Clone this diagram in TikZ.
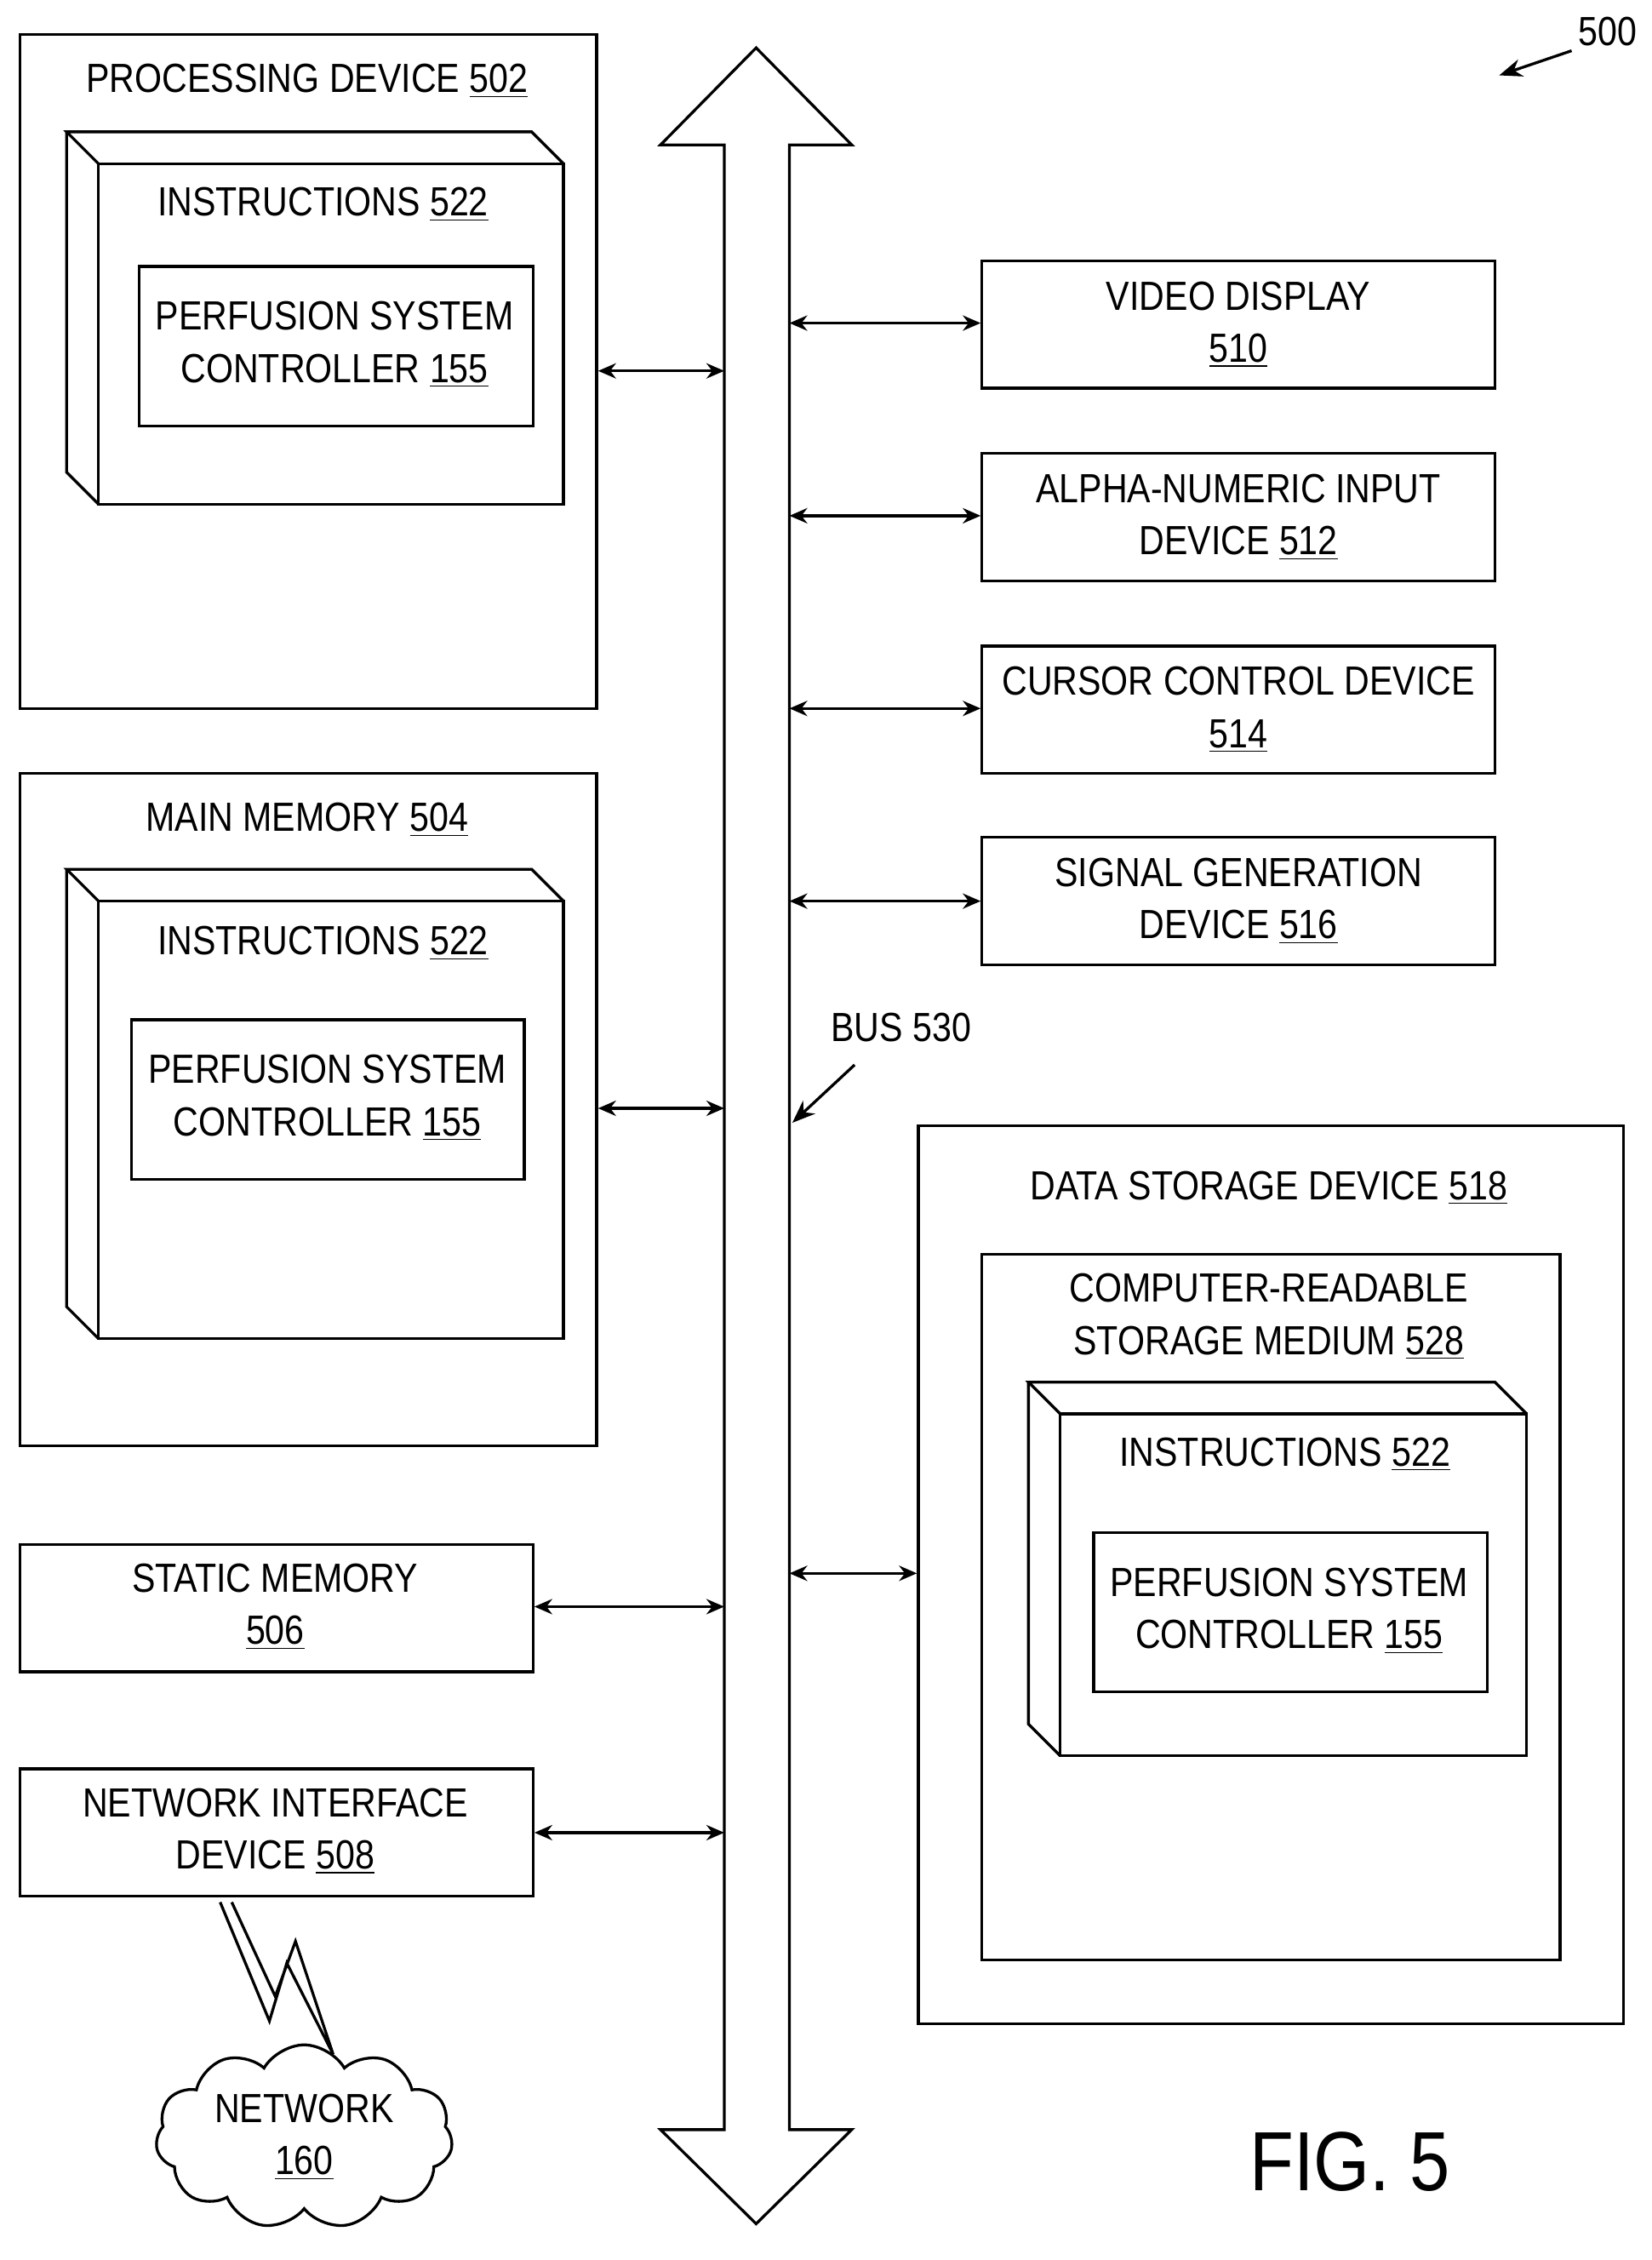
\documentclass[tikz,border=0pt]{standalone}
\usepackage{fontspec}
\setmainfont{Liberation Sans}[FakeStretch=0.86]
\usetikzlibrary{arrows.meta,shapes.symbols}
\begin{document}
\begin{tikzpicture}[x=0.02cm,y=-0.02cm,line width=1.1pt,
  box/.style={draw},
  lbl/.style={font=\fontsize{16}{20.5}\selectfont,align=center,inner sep=0},
  conn/.style={{Stealth[length=7pt,width=6pt]}-{Stealth[length=7pt,width=6pt]}},
  lead/.style={-{Stealth[length=9pt,width=7pt]}}]
\useasboundingbox (0,0) rectangle (1140,1560);
% bus
\draw (500,100) -- (456,100) -- (522,33) -- (588,100) -- (545,100) -- (545,1470) -- (588,1470) -- (522,1535) -- (456,1470) -- (500,1470) -- cycle;
\coordinate (busL) at (500,0); \coordinate (busR) at (545,0);
% processing device
\node[box,minimum width=398*0.02cm,minimum height=465*0.02cm,anchor=north west] (pd) at (13,23) {};
\node[lbl] at (212,56) {PROCESSING DEVICE \underline{502}};
\draw (68,113) rectangle (389,348);
\draw (68,113) -- (46,91) -- (367,91) -- (389,113);
\draw (46,91) -- (46,326) -- (68,348);
\node[lbl] at (223,141) {INSTRUCTIONS \underline{522}};
\node[box,minimum width=272*0.02cm,minimum height=110*0.02cm,anchor=north west] (pc1) at (95,183) {};
\node[lbl] at (231,238) {PERFUSION SYSTEM\\CONTROLLER \underline{155}};
% main memory
\node[box,minimum width=398*0.02cm,minimum height=464*0.02cm,anchor=north west] (mm) at (13,533) {};
\node[lbl] at (212,566) {MAIN MEMORY \underline{504}};
\draw (68,622) rectangle (389,924);
\draw (68,622) -- (46,600) -- (367,600) -- (389,622);
\draw (46,600) -- (46,902) -- (68,924);
\node[lbl] at (223,651) {INSTRUCTIONS \underline{522}};
\node[box,minimum width=271*0.02cm,minimum height=110*0.02cm,anchor=north west] (pc2) at (90,703) {};
\node[lbl] at (226,758) {PERFUSION SYSTEM\\CONTROLLER \underline{155}};
% static memory, NID
\node[box,minimum width=354*0.02cm,minimum height=88*0.02cm,anchor=north west] (sm) at (13,1065) {};
\node[lbl] at (190,1109) {STATIC MEMORY\\\underline{506}};
\node[box,minimum width=354*0.02cm,minimum height=88*0.02cm,anchor=north west] (nid) at (13,1220) {};
\node[lbl] at (190,1264) {NETWORK INTERFACE\\DEVICE \underline{508}};
% right boxes
\foreach \n/\y/\t in {vd/179/{VIDEO DISPLAY\\\underline{510}},an/312/{ALPHA-NUMERIC INPUT\\DEVICE \underline{512}},cc/445/{CURSOR CONTROL DEVICE\\\underline{514}},sg/577/{SIGNAL GENERATION\\DEVICE \underline{516}}}{
  \node[box,minimum width=354*0.02cm,minimum height=88*0.02cm,anchor=north west] (\n) at (677,\y) {};
  \node[lbl] at (\n.center) {\t};
}
% data storage
\node[box,minimum width=487*0.02cm,minimum height=620*0.02cm,anchor=north west] (ds) at (633,776) {};
\node[lbl] at (876,820) {DATA STORAGE DEVICE \underline{518}};
\node[box,minimum width=399*0.02cm,minimum height=487*0.02cm,anchor=north west] (crsm) at (677,865) {};
\node[lbl] at (876,909) {COMPUTER-READABLE\\STORAGE MEDIUM \underline{528}};
\draw (732,976) rectangle (1054,1212);
\draw (732,976) -- (710,954) -- (1032,954) -- (1054,976);
\draw (710,954) -- (710,1190) -- (732,1212);
\node[lbl] at (887,1004) {INSTRUCTIONS \underline{522}};
\node[box,minimum width=272*0.02cm,minimum height=110*0.02cm,anchor=north west] (pc3) at (754,1057) {};
\node[lbl] at (890,1112) {PERFUSION SYSTEM\\CONTROLLER \underline{155}};
% connectors
\draw[conn] (pd.east |- 0,256) -- (busL |- 0,256);
\draw[conn] (mm.east |- 0,765) -- (busL |- 0,765);
\draw[conn] (sm.east |- 0,1109) -- (busL |- 0,1109);
\draw[conn] (nid.east |- 0,1265) -- (busL |- 0,1265);
\foreach \n/\y in {vd/223,an/356,cc/489,sg/622}{\draw[conn] (busR |- 0,\y) -- (\n.west |- 0,\y);}
\draw[conn] (busR |- 0,1086) -- (ds.west |- 0,1086);
% labels
\node[lbl] (buslbl) at (622,709) {BUS 530};
\coordinate (b1) at (590,735); \coordinate (b2) at (547,775);
\draw[lead] (b1) -- (b2);
\node[lbl] (n500) at (1110,22) {500};
\coordinate (c1) at (1085,35); \coordinate (c2) at (1035,52);
\draw[lead] (c1) -- (c2);
\node[font=\fontsize{33}{36}\selectfont,inner sep=0] (fig) at (932,1492) {FIG. 5};
% network
\node[cloud,draw,cloud puffs=11,cloud puff arc=120,aspect=1.7,minimum width=205*0.02cm,minimum height=115*0.02cm,lbl] (net) at (210,1475) {NETWORK\\\underline{160}};
\draw[line join=miter] (152,1313) -- (186,1395) -- (198,1355) -- (230,1418) -- (204,1340) -- (190,1378) -- (160,1313);
\end{tikzpicture}
\end{document}
